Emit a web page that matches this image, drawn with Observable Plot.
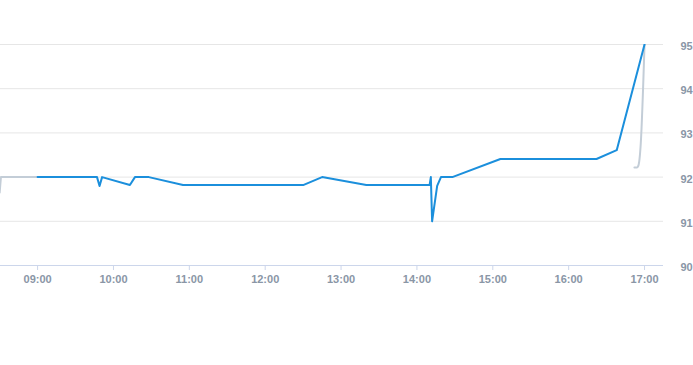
<!DOCTYPE html>
<html>
<head>
<meta charset="utf-8">
<script src="https://cdn.jsdelivr.net/npm/d3@7"></script>
<script src="https://cdn.jsdelivr.net/npm/@observablehq/plot@0.6"></script>
<style>
  html, body { margin: 0; padding: 0; background: #fff; }
  #chart svg { display: block; font-family: "Liberation Sans", Arial, sans-serif; }
</style>
</head>
<body>
<div id="chart"></div>
<script>
// ---- data ----
const blueTimes  = ["09:00","09:47","09:49","09:51","10:13","10:17","10:28","10:55","12:30","12:45","13:20","14:10","14:11","14:12","14:16","14:19","14:28","15:06","16:22","16:38","17:00"];
const blueValues = [92.0, 92.0, 91.8, 92.0, 91.82, 92.0, 92.0, 91.82, 91.82, 92.0, 91.82, 91.82, 92.0, 91.0, 91.8, 92.0, 92.0, 92.41, 92.41, 92.61, 95.0];

const grayTimes  = ["08:30","08:31","09:00"];
const grayValues = [91.65, 92.0, 92.0];
const grayEndTimes  = ["16:52","16:54","16:55","16:56","16:57","17:00"];
const grayEndValues = [92.22, 92.22, 92.25, 92.4, 92.75, 95.0];

const xTickLabels = ["09:00","10:00","11:00","12:00","13:00","14:00","15:00","16:00","17:00"];
const yTicks = [90, 91, 92, 93, 94, 95];
const xStart = "08:30:40";
const xEnd = "17:15";

// ---- helpers ----
function t(s) {
  const p = s.split(":").map(Number);
  return new Date(Date.UTC(2024, 0, 2, p[0], p[1], p[2] || 0));
}
const toRows = (ts, vs) => ts.map((d, i) => ({time: t(d), value: vs[i]}));
const blue = toRows(blueTimes, blueValues);
const grayA = toRows(grayTimes, grayValues);
const grayB = toRows(grayEndTimes, grayEndValues);
const fmt = d3.utcFormat("%H:%M");

const labelColor = "#8a96a6";

const chart = Plot.plot({
  width: 693,
  height: 365,
  marginLeft: 0,
  marginRight: 30,
  marginTop: 44,
  marginBottom: 100,
  style: {background: "#fff", fontSize: "11px", fontFamily: "'Liberation Sans', Arial, sans-serif"},
  x: {type: "utc", domain: [t(xStart), t(xEnd)]},
  y: {domain: [90, 95]},
  marks: [
    Plot.gridY(yTicks.filter(v => v !== 90), {stroke: "#e6e6e6", strokeOpacity: 1}),
    Plot.ruleY([90], {stroke: "#ccd6eb"}),
    Plot.axisX(xTickLabels.map(t), {
      tickFormat: fmt, tickSize: 5, tickPadding: 5,
      stroke: "#ccd6eb", strokeOpacity: 1, fill: labelColor,
      fontWeight: "bold", fontSize: 11, label: null
    }),
    Plot.axisY(yTicks, {
      anchor: "right", tickSize: 0, tickPadding: 17, textAnchor: "start",
      dy: 2, fill: labelColor, fontWeight: "bold", fontSize: 11, label: null
    }),
    Plot.line(grayA, {x: "time", y: "value", stroke: "#c3cdd7", strokeWidth: 2, clip: true}),
    Plot.line(grayB, {x: "time", y: "value", stroke: "#c3cdd7", strokeWidth: 2, clip: true, curve: "monotone-x"}),
    Plot.line(blue, {x: "time", y: "value", stroke: "#1b8fdc", strokeWidth: 2, clip: true})
  ]
});
document.getElementById("chart").appendChild(chart);
</script>
</body>
</html>
